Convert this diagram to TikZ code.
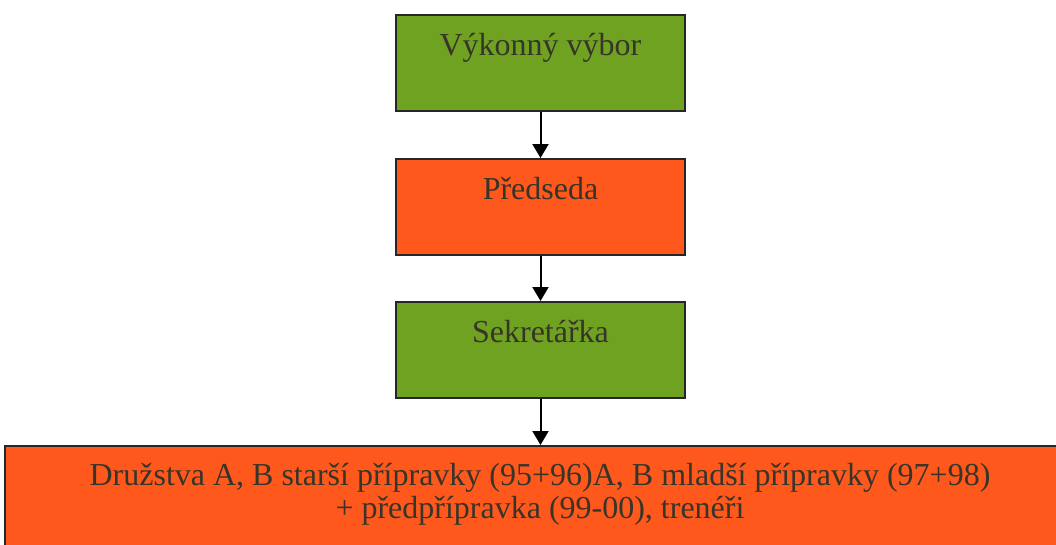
\documentclass[tikz,border=0pt]{standalone}
\usepackage{fontspec}
\setmainfont{Liberation Serif}
\usetikzlibrary{arrows.meta}
\definecolor{zelena}{RGB}{112,162,34}
\definecolor{oranzova}{RGB}{255,88,28}
\definecolor{textcol}{RGB}{55,52,42}
\begin{document}
\begin{tikzpicture}[x=1pt,y=1pt,
	box/.style={draw=black!85,line width=1.8pt,inner sep=0pt,minimum width=289pt,text height=41pt,text depth=55pt,anchor=north,text=textcol,font=\fontsize{32}{33}\selectfont},
	sipka/.style={line width=2pt,-{Triangle[width=16pt,length=14pt]}}]
		\useasboundingbox (0,0) rectangle (1056,-544);
		\clip (0,0) rectangle (1056,-544);
		\fill[white] (0,0) rectangle (1056,-544);
		\node[box,fill=zelena] (vybor) at (540.5,-14) {Výkonný výbor};
		\node[box,fill=oranzova] (predseda) at (540.5,-158) {Předseda};
		\node[box,fill=zelena] (sekretarka) at (540.5,-301) {Sekretářka};
		\node[box,fill=oranzova,minimum width=1070pt,text height=40pt,text depth=110pt] (druzstva) at (540,-445)
		{\parbox[t]{1000pt}{\centering Družstva A, B starší přípravky (95+96)A, B mladší přípravky (97+98)\\+ předpřípravka (99-00), trenéři}};
		\draw[sipka] (vybor) -- (predseda);
		\draw[sipka] (predseda) -- (sekretarka);
		\draw[sipka] (sekretarka.south) -- (sekretarka.south |- druzstva.north);
\end{tikzpicture}
\end{document}
